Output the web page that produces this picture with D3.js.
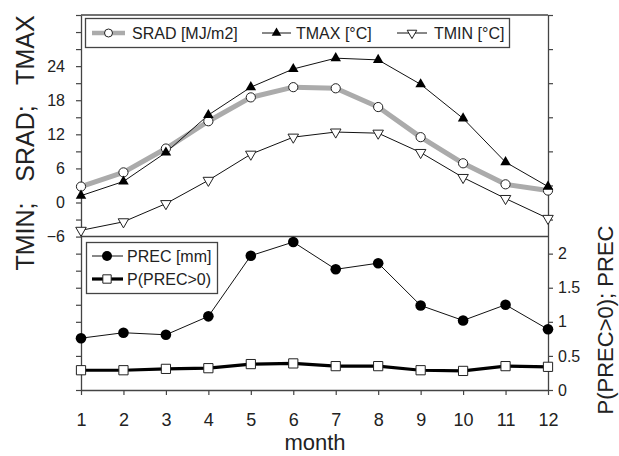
<!DOCTYPE html>
<html><head><meta charset="utf-8">
<script src="https://cdn.jsdelivr.net/npm/d3@7"></script>
<style>
html,body{margin:0;padding:0;background:#fff;}
svg{display:block;font-family:Arial,"Liberation Sans",sans-serif;}
</style></head>
<body>
<svg id="c" width="619" height="456"></svg>
<script>
// ---- data ----
const months = [1,2,3,4,5,6,7,8,9,10,11,12];
const srad = [2.8,5.3,9.5,14.3,18.5,20.3,20.1,16.8,11.5,6.9,3.2,2.1];
const tmax = [1.2,3.7,8.8,15.4,20.3,23.5,25.4,25.1,20.8,14.8,7.1,2.8];
const tmin = [-4.9,-3.4,-0.2,3.9,8.5,11.5,12.4,12.2,8.8,4.4,0.7,-2.8];
const prec = [0.76,0.84,0.81,1.08,1.97,2.17,1.77,1.86,1.24,1.02,1.25,0.89];
const pprec = [0.29,0.29,0.31,0.32,0.38,0.39,0.35,0.35,0.29,0.28,0.35,0.34];
const leftTickLabels = [-6,0,6,12,18,24];
const rightTickLabels = [0,0.5,1,1.5,2];
const topLegend = ["SRAD [MJ/m2]","TMAX [°C]","TMIN [°C]"];
const bottomLegend = ["PREC [mm]","P(PREC>0)"];
const leftTitle = "TMIN;   SRAD;   TMAX";
const rightTitle = "P(PREC>0); PREC";
const xTitle = "month";

// ---- layout ----
const L = 81, R = 548, T = 15, B = 390, DIV = 236.5;
const axisCol = "#444", txtCol = "#222";
const svg = d3.select("#c");

const x = d3.scaleLinear().domain([1,12]).range([L,R]);
const yL = d3.scaleLinear().domain([-33,33]).range([B,T]);
const yR = d3.scaleLinear().domain([0,5.5]).range([B,T]);

// frame
svg.append("line").attr("x1",L).attr("x2",R).attr("y1",T).attr("y2",T).attr("stroke",axisCol).attr("stroke-width",1.3);
svg.append("line").attr("x1",L).attr("x2",R).attr("y1",DIV).attr("y2",DIV).attr("stroke",axisCol).attr("stroke-width",1.3);

// axes
const fmtL = d => leftTickLabels.includes(d) ? d3.format("d")(d) : "";
const gL = svg.append("g").attr("transform",`translate(${L},0)`)
  .call(d3.axisLeft(yL).tickValues(d3.range(-33,34,3)).tickFormat(fmtL).tickSize(5).tickSizeOuter(0).tickPadding(11));
const fmtR = d => rightTickLabels.some(v=>Math.abs(v-d)<1e-9) ? d3.format("")(+d.toFixed(2)) : "";
const gR = svg.append("g").attr("transform",`translate(${R},0)`)
  .call(d3.axisRight(yR).tickValues(d3.range(0,5.51,0.5)).tickFormat(fmtR).tickSize(5).tickSizeOuter(0).tickPadding(5));
const gX = svg.append("g").attr("transform",`translate(0,${B})`)
  .call(d3.axisBottom(x).tickValues(months).tickFormat(d3.format("d")).tickSize(5).tickSizeOuter(0).tickPadding(18));
[gL,gR,gX].forEach(g=>{
  g.select(".domain").attr("stroke",axisCol).attr("stroke-width",1.3);
  g.selectAll(".tick line").attr("stroke",axisCol).attr("stroke-width",1.2);
  g.selectAll(".tick text").attr("fill",txtCol).attr("font-family","Arial, 'Liberation Sans', sans-serif");
});
gL.selectAll(".tick text").attr("font-size",16);
gR.selectAll(".tick text").attr("font-size",16);
gX.selectAll(".tick text").attr("font-size",18);

// titles
svg.append("text").attr("transform",`translate(34,143) rotate(-90)`).attr("text-anchor","middle")
  .attr("font-size",25).attr("fill",txtCol).style("white-space","pre").text(leftTitle);
svg.append("text").attr("transform",`translate(613,320) rotate(-90)`).attr("text-anchor","middle")
  .attr("font-size",22).attr("fill",txtCol).text(rightTitle);
svg.append("text").attr("x",315).attr("y",450).attr("text-anchor","middle")
  .attr("font-size",22).attr("fill",txtCol).text(xTitle);

// series
const line = (ys, sc) => d3.line().x((d,i)=>x(months[i])).y(d=>sc(d))(ys);
const triUp = d3.symbol().type(d3.symbolTriangle).size(48)();
const sq = d3.symbol().type(d3.symbolSquare).size(85)();

// SRAD
svg.append("path").attr("d",line(srad,yL)).attr("fill","none").attr("stroke","#ababab").attr("stroke-width",5).attr("stroke-linejoin","round");
// TMAX
svg.append("path").attr("d",line(tmax,yL)).attr("fill","none").attr("stroke","#111").attr("stroke-width",1);
// TMIN
svg.append("path").attr("d",line(tmin,yL)).attr("fill","none").attr("stroke","#111").attr("stroke-width",1);
svg.selectAll(".srad").data(srad).enter().append("circle")
  .attr("cx",(d,i)=>x(months[i])).attr("cy",d=>yL(d)).attr("r",4.6)
  .attr("fill","#fff").attr("stroke","#222").attr("stroke-width",1);
svg.selectAll(".tmax").data(tmax).enter().append("path").attr("d",triUp)
  .attr("transform",(d,i)=>`translate(${x(months[i])},${yL(d)})`).attr("fill","#000");
svg.selectAll(".tmin").data(tmin).enter().append("path").attr("d",triUp)
  .attr("transform",(d,i)=>`translate(${x(months[i])},${yL(d)}) rotate(180)`)
  .attr("fill","#fff").attr("stroke","#222").attr("stroke-width",1);

// PREC
svg.append("path").attr("d",line(prec,yR)).attr("fill","none").attr("stroke","#111").attr("stroke-width",1);
svg.append("path").attr("d",line(pprec,yR)).attr("fill","none").attr("stroke","#000").attr("stroke-width",3.2);
svg.selectAll(".prec").data(prec).enter().append("circle")
  .attr("cx",(d,i)=>x(months[i])).attr("cy",d=>yR(d)).attr("r",5.3).attr("fill","#000");
svg.selectAll(".pp").data(pprec).enter().append("path").attr("d",sq)
  .attr("transform",(d,i)=>`translate(${x(months[i])},${yR(d)})`)
  .attr("fill","#fff").attr("stroke","#222").attr("stroke-width",1);

// ---- legends ----
const lf = 16;
// top legend
svg.append("rect").attr("x",85.5).attr("y",18.5).attr("width",424).attr("height",29)
  .attr("fill","#fff").attr("stroke",axisCol).attr("stroke-width",1.3);
const ly = 33;
const topItems = [
  {x0:92,x1:125,tx:132},
  {x0:262,x1:291,tx:296},
  {x0:397,x1:427,tx:434}
];
// SRAD
svg.append("line").attr("x1",topItems[0].x0).attr("x2",topItems[0].x1).attr("y1",ly).attr("y2",ly).attr("stroke","#ababab").attr("stroke-width",4.5);
svg.append("circle").attr("cx",(topItems[0].x0+topItems[0].x1)/2).attr("cy",ly).attr("r",4).attr("fill","#fff").attr("stroke","#222");
// TMAX
svg.append("line").attr("x1",topItems[1].x0).attr("x2",topItems[1].x1).attr("y1",ly).attr("y2",ly).attr("stroke","#111");
svg.append("path").attr("d",d3.symbol().type(d3.symbolTriangle).size(40)()).attr("transform",`translate(${(topItems[1].x0+topItems[1].x1)/2},${ly})`).attr("fill","#000");
// TMIN
svg.append("line").attr("x1",topItems[2].x0).attr("x2",topItems[2].x1).attr("y1",ly).attr("y2",ly).attr("stroke","#111");
svg.append("path").attr("d",d3.symbol().type(d3.symbolTriangle).size(40)()).attr("transform",`translate(${(topItems[2].x0+topItems[2].x1)/2},${ly}) rotate(180)`).attr("fill","#fff").attr("stroke","#222");
topLegend.forEach((t,i)=>{
  svg.append("text").attr("x",topItems[i].tx).attr("y",ly+5.8).attr("font-size",lf).attr("fill",txtCol).text(t);
});

// bottom legend
svg.append("rect").attr("x",86.5).attr("y",242.5).attr("width",131).attr("height",51)
  .attr("fill","#fff").attr("stroke",axisCol).attr("stroke-width",1.3);
const by = [256,279];
svg.append("line").attr("x1",92).attr("x2",123).attr("y1",by[0]).attr("y2",by[0]).attr("stroke","#111");
svg.append("circle").attr("cx",107).attr("cy",by[0]).attr("r",5).attr("fill","#000");
svg.append("line").attr("x1",92).attr("x2",123).attr("y1",by[1]).attr("y2",by[1]).attr("stroke","#000").attr("stroke-width",3.2);
svg.append("path").attr("d",d3.symbol().type(d3.symbolSquare).size(70)()).attr("transform",`translate(107,${by[1]})`).attr("fill","#fff").attr("stroke","#222");
bottomLegend.forEach((t,i)=>{
  svg.append("text").attr("x",127).attr("y",by[i]+5.8).attr("font-size",lf).attr("fill",txtCol).text(t);
});
</script>
</body></html>
